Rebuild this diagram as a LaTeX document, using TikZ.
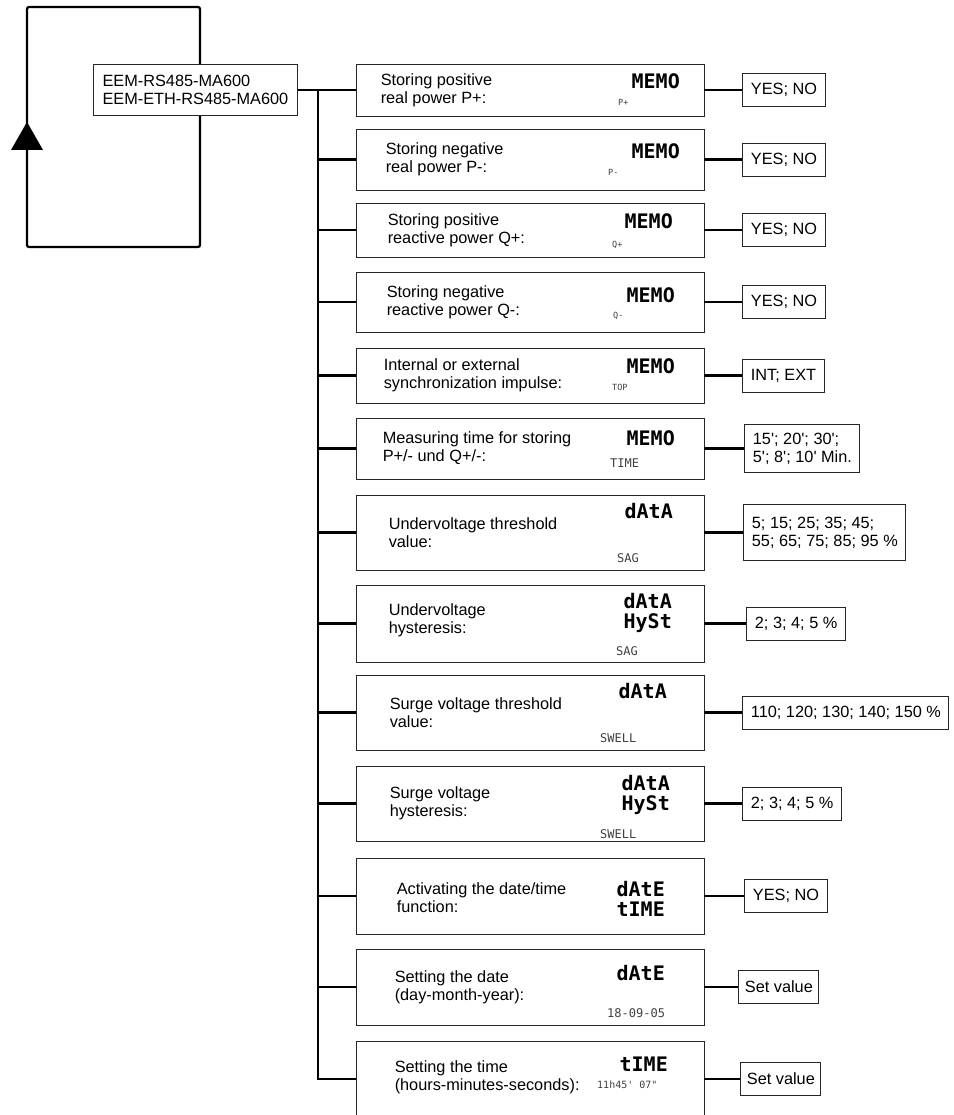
\documentclass[tikz,border=0pt]{standalone}
\usepackage{fontspec}
\setmainfont{Liberation Sans}
\newfontfamily\lcdfont{DejaVu Sans Mono}
\usetikzlibrary{arrows.meta, positioning, calc}

\newcommand{\menufont}{\fontsize{16.3}{18}\selectfont}
\newcommand{\lcdbig}{\lcdfont\bfseries\fontsize{20}{20.5}\selectfont}
\newcommand{\lcdmid}{\lcdfont\fontsize{12}{12}\selectfont}
\newcommand{\lcdtinyfont}{\lcdfont\fontsize{8.5}{8.5}\selectfont}

\begin{document}
\begin{tikzpicture}[x=1pt, y=-1pt,
  wire/.style={line width=2.2pt},
  frame/.style={draw=black!85, line width=0.9pt, fill=white},
  menubox/.style={frame, minimum width=348pt, inner sep=0pt},
  valbox/.style={frame, align=left, inner xsep=8pt, inner ysep=0pt, minimum height=33pt, font=\menufont},
  desc/.style={align=left, inner sep=0pt, font=\menufont},
  lcd/.style={anchor=north east, align=right, inner sep=0pt, font=\lcdbig},
  lcdsmall/.style={anchor=west, inner sep=0pt, text=black!75, font=\lcdmid},
  lcdtiny/.style={lcdsmall, font=\lcdtinyfont}
]
  \useasboundingbox (0,0) rectangle (953,1115);
  % return loop with arrow
  \draw[wire, rounded corners=2pt] (27,150) -- (27,7) -- (200,7) -- (200,247) -- (27,247) -- cycle;
  \fill (27,122) -- (43,150) -- (11,150) -- cycle;
  % device box
  \node[frame, anchor=north west, minimum width=204pt, minimum height=51pt, inner xsep=9pt, align=left, font=\menufont] (model) at (93,64)
    {EEM-RS485-MA600\\EEM-ETH-RS485-MA600};

  % menu boxes
  \node[menubox, minimum height=52pt] (b1) at (530,90) {};
  \node[menubox, minimum height=61pt] (b2) at (530,159.5) {};
  \node[menubox, minimum height=54pt] (b3) at (530,230) {};
  \node[menubox, minimum height=60pt] (b4) at (530,302) {};
  \node[menubox, minimum height=55pt] (b5) at (530,375.5) {};
  \node[menubox, minimum height=61pt] (b6) at (530,448.5) {};
  \node[menubox, minimum height=75pt] (b7) at (530,532.5) {};
  \node[menubox, minimum height=77pt] (b8) at (530,623.5) {};
  \node[menubox, minimum height=75pt] (b9) at (530,712.5) {};
  \node[menubox, minimum height=75pt] (b10) at (530,803.5) {};
  \node[menubox, minimum height=76pt] (b11) at (530,896) {};
  \node[menubox, minimum height=76pt] (b12) at (530,987) {};
  \node[menubox, minimum height=76pt] (b13) at (530,1079) {};

  % descriptions
  \node[desc, right=25pt of b1.west] (d1) {Storing positive\\real power P+:};
  \node[desc, right=30pt of b2.west] (d2) {Storing negative\\real power P-:};
  \node[desc, right=32pt of b3.west] (d3) {Storing positive\\reactive power Q+:};
  \node[desc, right=31pt of b4.west] (d4) {Storing negative\\reactive power Q-:};
  \node[desc, right=28pt of b5.west] (d5) {Internal or external\\synchronization impulse:};
  \node[desc, right=27pt of b6.west] (d6) {Measuring time for storing\\P+/- und Q+/-:};
  \node[desc, right=33pt of b7.west] (d7) {Undervoltage threshold\\value:};
  \node[desc, right=33pt of b8.west, yshift=3pt] (d8) {Undervoltage\\hysteresis:};
  \node[desc, right=34pt of b9.west] (d9) {Surge voltage threshold\\value:};
  \node[desc, right=34pt of b10.west] (d10) {Surge voltage\\hysteresis:};
  \node[desc, right=41pt of b11.west, yshift=-2pt] (d11) {Activating the date/time\\function:};
  \node[desc, right=39pt of b12.west] (d12) {Setting the date\\(day-month-year):};
  \node[desc, right=39pt of b13.west, yshift=2pt] (d13) {Setting the time\\(hours-minutes-seconds):};

  % display readings
  \node[lcd] (l1) at (680,73) {MEMO};
  \node[lcdtiny] (s1) at (618,102) {P+};
  \node[lcd] (l2) at (680,143) {MEMO};
  \node[lcdtiny] (s2) at (608,172) {P-};
  \node[lcd] (l3) at (673,213) {MEMO};
  \node[lcdtiny] (s3) at (612,245) {Q+};
  \node[lcd] (l4) at (675,287) {MEMO};
  \node[lcdtiny] (s4) at (613,316) {Q-};
  \node[lcd] (l5) at (675,358) {MEMO};
  \node[lcdtiny] (s5) at (612,387) {TOP};
  \node[lcd] (l6) at (675,430) {MEMO};
  \node[lcdsmall] (s6) at (610,463) {TIME};
  \node[lcd] (l7) at (673,503) {dAtA};
  \node[lcdsmall] (s7) at (617,558) {SAG};
  \node[lcd] (l8) at (672,593) {dAtA\\HySt};
  \node[lcdsmall] (s8) at (616,651) {SAG};
  \node[lcd] (l9) at (667,683) {dAtA};
  \node[lcdsmall] (s9) at (600,738) {SWELL};
  \node[lcd] (l10) at (670,775) {dAtA\\HySt};
  \node[lcdsmall] (s10) at (600,834) {SWELL};
  \node[lcd] (l11) at (665,881) {dAtE\\tIME};
  \node[lcd] (l12) at (665,965) {dAtE};
  \node[lcdsmall] (s12) at (607,1013) {18-09-05};
  \node[lcd] (l13) at (668,1057) {tIME};
  \node[lcdsmall, font=\lcdfont\fontsize{10}{10}\selectfont] (s13) at (597,1085) {11h45\textquotesingle\ 07\textquotedbl};

  % setting values
  \node[valbox, right=38pt of b1] (v1) {YES; NO};
  \node[valbox, right=38pt of b2] (v2) {YES; NO};
  \node[valbox, right=38pt of b3] (v3) {YES; NO};
  \node[valbox, right=38pt of b4] (v4) {YES; NO};
  \node[valbox, right=38pt of b5] (v5) {INT; EXT};
  \node[valbox, right=40pt of b6, minimum height=48pt] (v6) {15\textquotesingle; 20\textquotesingle; 30\textquotesingle;\\5\textquotesingle; 8\textquotesingle; 10\textquotesingle\ Min.};
  \node[valbox, right=39pt of b7, minimum height=56pt] (v7) {5; 15; 25; 35; 45;\\55; 65; 75; 85; 95 \%};
  \node[valbox, right=42pt of b8] (v8) {2; 3; 4; 5 \%};
  \node[valbox, right=38pt of b9] (v9) {110; 120; 130; 140; 150 \%};
  \node[valbox, right=38pt of b10] (v10) {2; 3; 4; 5 \%};
  \node[valbox, right=40pt of b11] (v11) {YES; NO};
  \node[valbox, right=34pt of b12, inner xsep=6pt] (v12) {Set value};
  \node[valbox, right=36pt of b13, inner xsep=6pt] (v13) {Set value};

  % trunk and branches
  \coordinate (trunk) at (318,0);
  \draw[wire] (model.east) -- (model.east -| trunk) -- (b13.west -| trunk) -- (b13.west);
  \draw[wire] (b1.west -| trunk) -- (b1.west);
  \draw[wire] (b2.west -| trunk) -- (b2.west);
  \draw[wire] (b3.west -| trunk) -- (b3.west);
  \draw[wire] (b4.west -| trunk) -- (b4.west);
  \draw[wire] (b5.west -| trunk) -- (b5.west);
  \draw[wire] (b6.west -| trunk) -- (b6.west);
  \draw[wire] (b7.west -| trunk) -- (b7.west);
  \draw[wire] (b8.west -| trunk) -- (b8.west);
  \draw[wire] (b9.west -| trunk) -- (b9.west);
  \draw[wire] (b10.west -| trunk) -- (b10.west);
  \draw[wire] (b11.west -| trunk) -- (b11.west);
  \draw[wire] (b12.west -| trunk) -- (b12.west);
  % menu to value links
  \draw[wire] (b1) -- (v1);
  \draw[wire] (b2) -- (v2);
  \draw[wire] (b3) -- (v3);
  \draw[wire] (b4) -- (v4);
  \draw[wire] (b5) -- (v5);
  \draw[wire] (b6) -- (v6);
  \draw[wire] (b7) -- (v7);
  \draw[wire] (b8) -- (v8);
  \draw[wire] (b9) -- (v9);
  \draw[wire] (b10) -- (v10);
  \draw[wire] (b11) -- (v11);
  \draw[wire] (b12) -- (v12);
  \draw[wire] (b13) -- (v13);
\end{tikzpicture}
\end{document}
